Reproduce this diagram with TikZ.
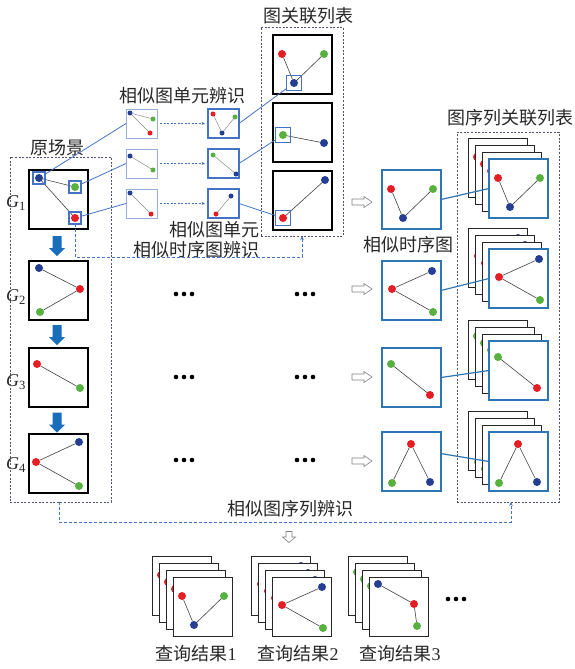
\documentclass[tikz,border=0pt]{standalone}
\usepackage{fontspec}
\setmainfont{Liberation Serif}
\newfontfamily\cjk{Noto Sans CJK SC}
\usetikzlibrary{arrows.meta}
\definecolor{dred}{RGB}{228,30,36}
\definecolor{dgreen}{RGB}{88,176,62}
\definecolor{dblue}{RGB}{36,62,148}
\definecolor{boxblue}{RGB}{46,117,182}
\definecolor{linkblue}{RGB}{68,114,196}
\definecolor{paleblue}{RGB}{150,176,222}
\definecolor{dashgray}{RGB}{80,84,110}
\definecolor{arrowblue}{RGB}{24,110,186}
\definecolor{txt}{RGB}{40,40,40}
\tikzset{
  gdot/.style={circle,inner sep=0pt,minimum size=8pt,outer sep=0pt},
  smdot/.style={circle,inner sep=0pt,minimum size=5pt,outer sep=0pt},
  gedge/.style={draw=black!75,line width=0.6pt},
  pedge/.style={draw=black!45,line width=0.5pt},
  gbox/.style={draw=black,line width=1.4pt,fill=white,inner sep=0pt,outer sep=0pt,minimum width=59pt,minimum height=59pt,anchor=north west},
  cbox/.style={gbox,line width=1.2pt},
  bbox/.style={gbox,draw=boxblue,line width=2pt},
  backframe/.style={gbox,draw=black!85,line width=0.9pt},
  pbox/.style={draw=paleblue,line width=1pt,fill=white,inner sep=0pt,outer sep=0pt,minimum width=31pt,minimum height=29pt,anchor=north west},
  qbox/.style={pbox,draw=linkblue,line width=1.5pt},
  hl/.style={draw=linkblue,line width=1.1pt,inner sep=0pt,minimum size=12pt,outer sep=0pt},
  glink/.style={draw=linkblue,line width=0.8pt},
  blink/.style={draw=boxblue,line width=1.2pt},
  dashbox/.style={draw=dashgray,line width=0.8pt,dash pattern=on 2pt off 1.6pt,inner sep=0pt,outer sep=0pt,anchor=north west},
  bluedash/.style={draw=linkblue,line width=0.9pt,dash pattern=on 3pt off 2pt},
  dotarrow/.style={draw=linkblue,line width=0.8pt,dash pattern=on 2pt off 1.5pt,-{Stealth[length=3.5pt,width=3pt]},shorten <=3pt,shorten >=3pt},
  lab/.style={font=\fontsize{18}{20}\selectfont,text=txt,inner sep=0pt},
  hollow/.style={draw=black!50,fill=white,line width=0.6pt},
  bluearrow/.style={fill=arrowblue,draw=none},
}
% graph layouts in a 59x59 box, relative to its top-left corner
\newcommand\grV[2]{%
  \node[#2,fill=dred] (#1r) at (9,19) {};
  \node[#2,fill=dgreen] (#1g) at (51,19) {};
  \node[#2,fill=dblue] (#1b) at (21,48) {};
  \draw[gedge] (#1r) -- (#1b) -- (#1g);}
\newcommand\grB[2]{%
  \node[#2,fill=dblue] (#1b) at (50,10) {};
  \node[#2,fill=dred] (#1r) at (10,28) {};
  \node[#2,fill=dgreen] (#1g) at (51,51) {};
  \draw[gedge] (#1b) -- (#1r) -- (#1g);}
\newcommand\grC[2]{%
  \node[#2,fill=dgreen] (#1g) at (9,16) {};
  \node[#2,fill=dred] (#1r) at (48,47) {};
  \draw[gedge] (#1g) -- (#1r);}
\newcommand\grD[2]{%
  \node[#2,fill=dred] (#1r) at (29,12) {};
  \node[#2,fill=dgreen] (#1g) at (10,51) {};
  \node[#2,fill=dblue] (#1b) at (48,50) {};
  \draw[gedge] (#1g) -- (#1r) -- (#1b);}
\newcommand\grE[2]{%
  \node[#2,fill=dblue] (#1b) at (9,7) {};
  \node[#2,fill=dred] (#1r) at (45,27) {};
  \node[#2,fill=dgreen] (#1g) at (48,49) {};
  \draw[gedge] (#1b) -- (#1r) -- (#1g);}
% stack: #1 name, #2 x, #3 y (front top-left), #4 back graph, #5 front graph, #6 front style
\newcommand\gstack[6]{%
  \foreach \k in {3,2,1}{%
    \begin{scope}[shift={({#2-7*\k},{#3-7*\k})}]
      \node[backframe] (#1k\k) at (0,0) {};
      #4{#1l\k}{gdot}
    \end{scope}}
  \begin{scope}[shift={(#2,#3)}]
    \node[#6] (#1) at (0,0) {};
    #5{#1n}{gdot}
  \end{scope}}
\newcommand\hollowright[2]{\draw[hollow,shift={(#1,#2)}] (-10,-3) -- (2,-3) -- (2,-5.5) -- (10,0) -- (2,5.5) -- (2,3) -- (-10,3) -- cycle;}
\newcommand\bluedown[2]{\fill[bluearrow,shift={(#1,#2)}] (-4.5,-10) -- (4.5,-10) -- (4.5,2) -- (8,2) -- (0,10) -- (-8,2) -- (-4.5,2) -- cycle;}
\newcommand\threedots[2]{\foreach \dd in {-8,0,8}{\fill[black] ({#1+\dd},#2) circle (2.3pt);}}
\begin{document}
\begin{tikzpicture}[x=1pt,y=-1pt]
\useasboundingbox[fill=white] (0,0) rectangle (574,669);

% ---------- labels ----------
\node[lab] (tChart) at (308,16) {\cjk 图关联列表};
\node[lab] (tUnit) at (182,96) {\cjk 相似图单元辨识};
\node[lab] (tScene) at (57,148) {\cjk 原场景};
\node[lab] (tUnitB) at (214,230) {\cjk 相似图单元};
\node[lab] (tSeqId) at (196,250) {\cjk 相似时序图辨识};
\node[lab] (tSim) at (408,245) {\cjk 相似时序图};
\node[lab] (tSeqTab) at (510,118) {\cjk 图序列关联列表};
\node[lab] (tSeqRec) at (290,509) {\cjk 相似图序列辨识};
\node[lab] (tR1) at (196,654) {{\cjk 查询结果}1};
\node[lab] (tR2) at (298,654) {{\cjk 查询结果}2};
\node[lab] (tR3) at (400,654) {{\cjk 查询结果}3};
\node[lab] (lG1) at (16,203) {\textit{G}\textsubscript{1}};
\node[lab] (lG2) at (16,297) {\textit{G}\textsubscript{2}};
\node[lab] (lG3) at (16,382) {\textit{G}\textsubscript{3}};
\node[lab] (lG4) at (16,465) {\textit{G}\textsubscript{4}};

% ---------- dashed group boxes ----------
\node[dashbox,minimum width=101pt,minimum height=345pt] (scene) at (10,157) {};
\node[dashbox,minimum width=82pt,minimum height=209pt] (chart) at (261,27) {};
\node[dashbox,minimum width=102pt,minimum height=370pt] (seqtab) at (457,132) {};

% ---------- original scene G1..G4 ----------
\begin{scope}[shift={(29,170)}]
  \node[gbox] (G1) at (0,0) {};
  \node[gdot,fill=dblue] (g1b) at (10,8) {};
  \node[gdot,fill=dgreen] (g1g) at (46,17) {};
  \node[gdot,fill=dred] (g1r) at (46,48) {};
  \draw[gedge] (g1b) -- (g1g);
  \draw[gedge] (g1b) -- (g1r);
  \node[hl] (g1hb) at (g1b) {};
  \node[hl] (g1hg) at (g1g) {};
  \node[hl] (g1hr) at (g1r) {};
\end{scope}
\begin{scope}[shift={(29,261)}]
  \node[gbox] (G2) at (0,0) {};
  \node[gdot,fill=dblue] (g2b) at (10,7) {};
  \node[gdot,fill=dred] (g2r) at (51,28) {};
  \node[gdot,fill=dgreen] (g2g) at (11,51) {};
  \draw[gedge] (g2b) -- (g2r) -- (g2g);
\end{scope}
\begin{scope}[shift={(29,348)}]
  \node[gbox] (G3) at (0,0) {};
  \node[gdot,fill=dred] (g3r) at (8,16) {};
  \node[gdot,fill=dgreen] (g3g) at (51,40) {};
  \draw[gedge] (g3r) -- (g3g);
\end{scope}
\begin{scope}[shift={(29,434)}]
  \node[gbox] (G4) at (0,0) {};
  \node[gdot,fill=dblue] (g4b) at (50,8) {};
  \node[gdot,fill=dred] (g4r) at (7,28) {};
  \node[gdot,fill=dgreen] (g4g) at (50,52) {};
  \draw[gedge] (g4b) -- (g4r) -- (g4g);
\end{scope}
\bluedown{57}{246}
\bluedown{57}{335}
\bluedown{57}{422.5}

% ---------- similar graph units (small boxes) ----------
\begin{scope}[shift={(126,109)}]
  \node[pbox] (p1) at (0,0) {};
  \node[smdot,fill=dblue] (p1b) at (4,4) {};
  \node[smdot,fill=dgreen] (p1g) at (27,10) {};
  \node[smdot,fill=dred] (p1r) at (24,24) {};
  \draw[pedge] (p1b) -- (p1g); \draw[pedge] (p1b) -- (p1r);
\end{scope}
\begin{scope}[shift={(126,149)}]
  \node[pbox] (p2) at (0,0) {};
  \node[smdot,fill=dblue] (p2b) at (4,7) {};
  \node[smdot,fill=dgreen] (p2g) at (27,21) {};
  \draw[pedge] (p2b) -- (p2g);
\end{scope}
\begin{scope}[shift={(126,189)}]
  \node[pbox] (p3) at (0,0) {};
  \node[smdot,fill=dblue] (p3b) at (4,4) {};
  \node[smdot,fill=dred] (p3r) at (25,25) {};
  \draw[pedge] (p3b) -- (p3r);
\end{scope}
\begin{scope}[shift={(208,109)}]
  \node[qbox] (q1) at (0,0) {};
  \node[smdot,fill=dred] (q1r) at (5,5) {};
  \node[smdot,fill=dgreen] (q1g) at (27,8) {};
  \node[smdot,fill=dblue] (q1b) at (14,24) {};
  \draw[pedge] (q1r) -- (q1b) -- (q1g);
\end{scope}
\begin{scope}[shift={(208,149)}]
  \node[qbox] (q2) at (0,0) {};
  \node[smdot,fill=dgreen] (q2g) at (5,6) {};
  \node[smdot,fill=dblue] (q2b) at (28,25) {};
  \draw[pedge] (q2g) -- (q2b);
\end{scope}
\begin{scope}[shift={(208,189)}]
  \node[qbox] (q3) at (0,0) {};
  \node[smdot,fill=dblue] (q3b) at (23,7) {};
  \node[smdot,fill=dred] (q3r) at (8,25) {};
  \draw[pedge] (q3b) -- (q3r);
\end{scope}
\draw[dotarrow] (p1) -- (q1);
\draw[dotarrow] (p2) -- (q2);
\draw[dotarrow] (p3) -- (q3);

% ---------- graph association table ----------
\begin{scope}[shift={(273,35)}]
  \node[cbox] (c1) at (0,0) {};
  \grV{c1}{gdot}
  \node[hl,minimum size=15pt] (c1h) at (c1b) {};
\end{scope}
\begin{scope}[shift={(273,103)}]
  \node[cbox] (c2) at (0,0) {};
  \node[gdot,fill=dgreen] (c2g) at (10,32) {};
  \node[gdot,fill=dblue] (c2b) at (51,40) {};
  \draw[gedge] (c2g) -- (c2b);
  \node[hl,minimum size=15pt] (c2h) at (c2g) {};
\end{scope}
\begin{scope}[shift={(273,171)}]
  \node[cbox] (c3) at (0,0) {};
  \node[gdot,fill=dblue] (c3b) at (52,9) {};
  \node[gdot,fill=dred] (c3r) at (10,47) {};
  \draw[gedge] (c3b) -- (c3r);
  \node[hl,minimum size=15pt] (c3h) at (c3r) {};
\end{scope}

% links
\draw[glink] (g1hb) -- (p1.west);
\draw[glink] (g1hg) -- (p2.west);
\draw[glink] (g1hr) -- (p3.west);
\draw[glink] (q1.east) -- (c1h);
\draw[glink] (q2.east) -- (c2h);
\draw[glink] (q3.east) -- (c3h);

% blue dashed feedback
\coordinate (dyA) at (0,257);
\draw[bluedash,-{Stealth[length=4pt,width=3.5pt]}] (g1hr.south) |- (chart.south |- dyA) -- (chart.south);

% dots
\threedots{184}{294}
\threedots{305}{294}
\threedots{184}{377}
\threedots{305}{377}
\threedots{184}{460}
\threedots{305}{460}

% ---------- similar temporal graphs ----------
\hollowright{362}{202}
\hollowright{362}{289}
\hollowright{362}{377}
\hollowright{362}{461}
\begin{scope}[shift={(382,170)}]
  \node[bbox] (s1) at (0,0) {}; \grV{s1}{gdot}
\end{scope}
\begin{scope}[shift={(382,261)}]
  \node[bbox] (s2) at (0,0) {}; \grB{s2}{gdot}
\end{scope}
\begin{scope}[shift={(382,348)}]
  \node[bbox] (s3) at (0,0) {}; \grC{s3}{gdot}
\end{scope}
\begin{scope}[shift={(382,432)}]
  \node[bbox] (s4) at (0,0) {}; \grD{s4}{gdot}
\end{scope}

% ---------- sequence association table stacks ----------
\gstack{f1}{489}{159}{\grV}{\grV}{bbox}
\gstack{f2}{489}{249}{\grB}{\grB}{bbox}
\gstack{f3}{489}{341}{\grC}{\grC}{bbox}
\gstack{f4}{489}{432}{\grD}{\grD}{bbox}
\draw[blink] (s1.east) -- (f1.west);
\draw[blink] (s2.east) -- (f2.west);
\draw[blink] (s3.east) -- (f3.west);
\draw[blink] (s4.15) -- (f4.west);

% ---------- sequence recognition ----------
\coordinate (dyB) at (0,522);
\draw[bluedash,-{Stealth[length=4pt,width=3.5pt]}] ([xshift=-1.5pt]scene.south) |- ([xshift=3pt]seqtab.south |- dyB) -- ([xshift=3pt]seqtab.south);
\draw[hollow,shift={(289,537)}] (-3,-5.5) -- (3,-5.5) -- (3,0) -- (6.5,0) -- (0,5.5) -- (-6.5,0) -- (-3,0) -- cycle;

% ---------- query results ----------
\gstack{res1}{173}{577}{\grV}{\grV}{backframe}
\gstack{res2}{272}{577}{\grB}{\grB}{backframe}
\gstack{res3}{369}{577}{\grC}{\grE}{backframe}
\threedots{456}{599}
\end{tikzpicture}
\end{document}
